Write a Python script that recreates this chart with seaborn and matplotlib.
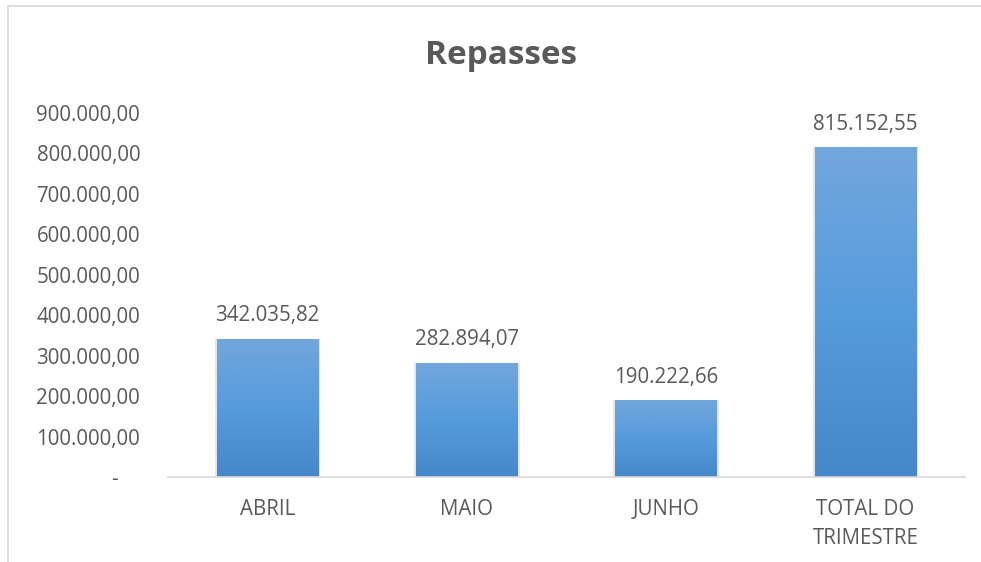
import numpy as np
import pandas as pd
import seaborn as sns
import matplotlib.pyplot as plt
from matplotlib.colors import LinearSegmentedColormap
from matplotlib.patches import Rectangle

sns.set_style("white")
plt.rcParams['font.family'] = ['Open Sans', 'DejaVu Sans']

# data
categorias = ['ABRIL', 'MAIO', 'JUNHO', 'TOTAL DO\nTRIMESTRE']
valores = [342035.82, 282894.07, 190222.66, 815152.55]
rotulos = ['342.035,82', '282.894,07', '190.222,66', '815.152,55']
yticks = [0, 100000, 200000, 300000, 400000, 500000, 600000, 700000, 800000, 900000]
ytick_labels = ['-    ', '100.000,00', '200.000,00', '300.000,00', '400.000,00',
                '500.000,00', '600.000,00', '700.000,00', '800.000,00', '900.000,00']

df = pd.DataFrame({'mes': categorias, 'valor': valores})
texto = '#595959'
fs = 14.8

fig = plt.figure(figsize=(9.81, 5.62), dpi=100)
ax = fig.add_axes([168 / 981, 1 - 477 / 562, (965 - 168) / 981, (477 - 113) / 562])

sns.barplot(data=df, x='mes', y='valor', color='#5A9BDC', width=0.51,
            saturation=1, linewidth=0, ax=ax)

# vertical gradient on each bar, like the Excel fill
grad = LinearSegmentedColormap.from_list('g', ['#4588C9', '#569BDC', '#72A7DC'])
gimg = np.linspace(0, 1, 256).reshape(-1, 1)
for bar in ax.patches[:]:
    x0, y0 = bar.get_x(), bar.get_y()
    w, h = bar.get_width(), bar.get_height()
    # soft shadow
    ax.add_patch(Rectangle((x0 - 0.01, y0 - 3000), w + 0.02, h + 3000,
                           facecolor='#000000', alpha=0.10, edgecolor='none', zorder=1))
    bar.set_zorder(2)
    im = ax.imshow(gimg, cmap=grad, aspect='auto', origin='lower',
                   extent=[x0, x0 + w, y0, y0 + h], zorder=3)
    im.set_clip_path(bar)

for i, (v, lab) in enumerate(zip(valores, rotulos)):
    ax.annotate(lab, (i, v), xytext=(0, 9), textcoords='offset points',
                ha='center', va='bottom', fontsize=fs, color=texto)

ax.set_xlim(-0.5, 3.5)
ax.set_ylim(0, 900000)
ax.set_yticks(yticks)
ax.set_yticklabels(ytick_labels)
ax.tick_params(axis='y', length=0, pad=20, labelsize=fs, labelcolor=texto)
ax.tick_params(axis='x', length=0, pad=16, labelsize=fs, labelcolor=texto)
for lab in ax.get_xticklabels():
    lab.set_linespacing(1.5)
ax.set_xlabel('')
ax.set_ylabel('')
sns.despine(ax=ax, left=True)
ax.spines['bottom'].set_color('#D9D9D9')
ax.spines['bottom'].set_linewidth(1.2)
ax.spines['bottom'].set_zorder(4)

fig.text(0.511, 1 - 55 / 562, 'Repasses', ha='center', va='center',
         fontsize=24, fontweight='bold', color=texto)

# chart area border (cut off at right and bottom in the reference)
fig.patches.append(Rectangle((8 / 981, -0.1), 1.2, 1 - 6 / 562 + 0.1,
                             transform=fig.transFigure, fill=False,
                             edgecolor='#D9D9D9', linewidth=1.2))

fig.savefig('out.png', dpi=100)
